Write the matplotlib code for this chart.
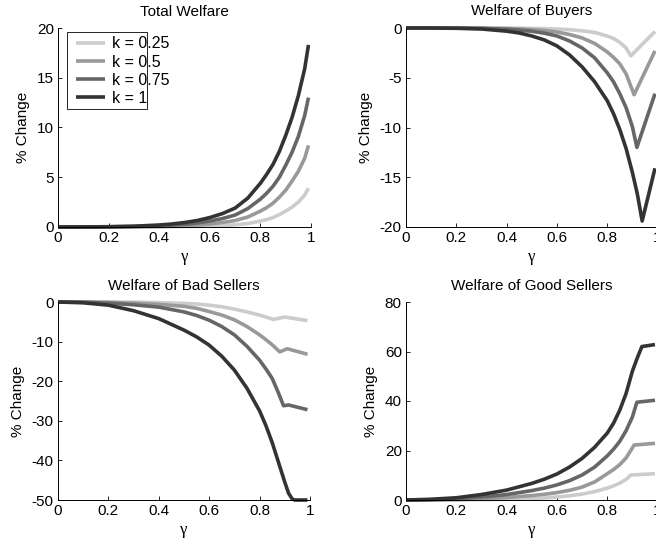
import matplotlib
matplotlib.use("Agg")
import matplotlib.pyplot as plt
from matplotlib.patches import Rectangle

plt.rcParams['font.family'] = ['Liberation Sans', 'DejaVu Sans']

# ---------------- data ----------------
k_labels = ["k = 0.25", "k = 0.5", "k = 0.75", "k = 1"]
colors = ["#cccccc", "#999999", "#666666", "#333333"]

# Total welfare
tw_x = [0, 0.1, 0.2, 0.3, 0.4, 0.45, 0.5, 0.55, 0.6, 0.65, 0.7, 0.75, 0.8, 0.825, 0.85, 0.875, 0.9, 0.925, 0.95, 0.975, 0.99]
tw_k025 = [0, 0, 0, 0.01, 0.02, 0.03, 0.05, 0.07, 0.1, 0.15, 0.22, 0.35, 0.6, 0.75, 0.95, 1.25, 1.6, 2.0, 2.5, 3.2, 3.9]
tw_k050 = [0, 0, 0.01, 0.02, 0.05, 0.08, 0.13, 0.2, 0.3, 0.45, 0.65, 1.0, 1.6, 1.95, 2.4, 3.0, 3.7, 4.6, 5.6, 6.9, 8.2]
tw_k075 = [0, 0, 0.02, 0.05, 0.12, 0.19, 0.28, 0.4, 0.6, 0.85, 1.2, 1.85, 2.8, 3.4, 4.1, 5.0, 6.2, 7.5, 9.1, 11.2, 13.0]
tw_k100 = [0, 0.01, 0.03, 0.08, 0.2, 0.3, 0.45, 0.65, 0.95, 1.35, 1.9, 2.9, 4.4, 5.3, 6.3, 7.6, 9.2, 11.0, 13.2, 15.9, 18.3]

# Welfare of buyers
by_x025 = [0, 0.1, 0.2, 0.3, 0.4, 0.45, 0.5, 0.55, 0.6, 0.65, 0.7, 0.75, 0.8, 0.825, 0.85, 0.875, 0.894, 0.99]
by_k025 = [0, 0, 0, 0, -0.01, -0.02, -0.04, -0.06, -0.1, -0.17, -0.28, -0.45, -0.8, -1.05, -1.45, -2.0, -2.8, -0.35]
by_x050 = [0, 0.1, 0.2, 0.3, 0.4, 0.45, 0.5, 0.55, 0.6, 0.65, 0.7, 0.75, 0.8, 0.825, 0.85, 0.875, 0.907, 0.99]
by_k050 = [0, 0, 0, -0.02, -0.06, -0.1, -0.16, -0.25, -0.4, -0.65, -1.0, -1.55, -2.4, -2.95, -3.6, -4.6, -6.7, -2.3]
by_x075 = [0, 0.1, 0.2, 0.3, 0.4, 0.45, 0.5, 0.55, 0.6, 0.65, 0.7, 0.75, 0.8, 0.825, 0.85, 0.875, 0.9, 0.918, 0.99]
by_k075 = [0, 0, -0.01, -0.04, -0.13, -0.21, -0.33, -0.52, -0.8, -1.3, -2.0, -3.0, -4.5, -5.4, -6.6, -8.0, -9.9, -12.0, -6.6]
by_x100 = [0, 0.1, 0.2, 0.3, 0.4, 0.45, 0.5, 0.55, 0.6, 0.65, 0.7, 0.75, 0.8, 0.825, 0.85, 0.875, 0.9, 0.92, 0.939, 0.99]
by_k100 = [0, 0, -0.03, -0.1, -0.32, -0.5, -0.8, -1.2, -1.8, -2.7, -3.9, -5.4, -7.3, -8.6, -10.2, -12.1, -14.5, -16.7, -19.4, -14.1]

# Welfare of bad sellers
bs_x025 = [0, 0.1, 0.2, 0.3, 0.4, 0.5, 0.55, 0.6, 0.65, 0.7, 0.75, 0.8, 0.855, 0.9, 0.99]
bs_k025 = [0, 0, 0, -0.05, -0.15, -0.35, -0.5, -0.8, -1.2, -1.8, -2.5, -3.3, -4.4, -3.8, -4.7]
bs_x050 = [0, 0.1, 0.2, 0.3, 0.4, 0.5, 0.55, 0.6, 0.65, 0.7, 0.75, 0.8, 0.825, 0.85, 0.88, 0.91, 0.99]
bs_k050 = [0, 0, -0.1, -0.3, -0.6, -1.1, -1.6, -2.4, -3.3, -4.5, -6.2, -8.3, -9.5, -10.8, -12.6, -11.8, -13.2]
bs_x075 = [0, 0.1, 0.2, 0.3, 0.4, 0.5, 0.55, 0.6, 0.65, 0.7, 0.75, 0.8, 0.825, 0.85, 0.875, 0.895, 0.915, 0.99]
bs_k075 = [0, -0.05, -0.3, -0.7, -1.3, -2.5, -3.4, -4.6, -6.2, -8.3, -11.2, -14.7, -16.9, -19.3, -23.0, -26.2, -26.0, -27.2]
bs_x100 = [0, 0.1, 0.2, 0.3, 0.4, 0.5, 0.55, 0.6, 0.65, 0.7, 0.75, 0.8, 0.825, 0.85, 0.875, 0.9, 0.915, 0.93, 0.94, 0.99]
bs_k100 = [0, -0.2, -0.8, -2.2, -4.2, -7.1, -8.8, -10.9, -13.7, -17.2, -21.8, -27.5, -31.2, -35.5, -40.5, -45.5, -48.3, -49.8, -50, -50]

# Welfare of good sellers
gs_x025 = [0, 0.1, 0.2, 0.3, 0.4, 0.5, 0.55, 0.6, 0.65, 0.7, 0.75, 0.8, 0.825, 0.85, 0.875, 0.894, 0.99]
gs_k025 = [0, 0, 0.05, 0.15, 0.3, 0.6, 0.8, 1.2, 1.7, 2.4, 3.4, 4.8, 5.7, 6.8, 8.3, 10.1, 10.6]
gs_x050 = [0, 0.1, 0.2, 0.3, 0.4, 0.5, 0.55, 0.6, 0.65, 0.7, 0.75, 0.8, 0.825, 0.85, 0.875, 0.895, 0.907, 0.99]
gs_k050 = [0, 0, 0.2, 0.5, 1.0, 1.8, 2.3, 3.0, 3.9, 5.2, 7.3, 10.6, 12.3, 14.3, 17.0, 20.2, 22.2, 22.9]
gs_x075 = [0, 0.1, 0.2, 0.3, 0.4, 0.5, 0.55, 0.6, 0.65, 0.7, 0.75, 0.8, 0.825, 0.85, 0.875, 0.9, 0.918, 0.99]
gs_k075 = [0, 0.1, 0.5, 1.2, 2.2, 3.8, 4.8, 6.1, 7.8, 10.1, 13.3, 17.8, 20.5, 23.7, 28.0, 33.5, 39.5, 40.3]
gs_x100 = [0, 0.1, 0.2, 0.3, 0.4, 0.5, 0.55, 0.6, 0.65, 0.7, 0.75, 0.8, 0.825, 0.85, 0.875, 0.9, 0.92, 0.938, 0.99]
gs_k100 = [0, 0.3, 0.9, 2.2, 4.0, 6.7, 8.4, 10.5, 13.3, 16.8, 21.3, 27.0, 31.0, 36.3, 43.0, 52.0, 57.5, 62.0, 62.8]

panels = [
    dict(title="Total Welfare", ylim=(0, 20), yticks=[0, 5, 10, 15, 20],
         series=[(tw_x, tw_k025), (tw_x, tw_k050), (tw_x, tw_k075), (tw_x, tw_k100)],
         rect=[58, 28, 253, 199], legend=True),
    dict(title="Welfare of Buyers", ylim=(-20, 0), yticks=[-20, -15, -10, -5, 0],
         series=[(by_x025, by_k025), (by_x050, by_k050), (by_x075, by_k075), (by_x100, by_k100)],
         rect=[406, 28, 251.5, 199], legend=False),
    dict(title="Welfare of Bad Sellers", ylim=(-50, 0), yticks=[-50, -40, -30, -20, -10, 0],
         series=[(bs_x025, bs_k025), (bs_x050, bs_k050), (bs_x075, bs_k075), (bs_x100, bs_k100)],
         rect=[58, 302, 252, 198], legend=False),
    dict(title="Welfare of Good Sellers", ylim=(0, 80), yticks=[0, 20, 40, 60, 80],
         series=[(gs_x025, gs_k025), (gs_x050, gs_k050), (gs_x075, gs_k075), (gs_x100, gs_k100)],
         rect=[406, 302, 251.5, 198], legend=False),
]

W, H = 656, 550
fig = plt.figure(figsize=(W / 100, H / 100), dpi=100)
FS = 11

for p in panels:
    x0, y0, w, h = p["rect"]
    ax = fig.add_axes([x0 / W, 1 - (y0 + h) / H, w / W, h / H])
    for (xs, ys), c, lab in zip(p["series"], colors, k_labels):
        ax.plot(xs, ys, color=c, lw=2.6, label=lab, clip_on=False,
                solid_joinstyle='round', solid_capstyle='butt')
    ax.set_xlim(0, 1)
    ax.set_ylim(*p["ylim"])
    ax.set_xticks([0, 0.2, 0.4, 0.6, 0.8, 1])
    ax.set_xticklabels(["0", "0.2", "0.4", "0.6", "0.8", "1"])
    ax.set_yticks(p["yticks"])
    ax.set_yticklabels([str(v) for v in p["yticks"]])
    ax.tick_params(direction='in', length=3, width=0.6, labelsize=FS, pad=3)
    ax.spines['top'].set_visible(False)
    ax.spines['right'].set_visible(False)
    for s in ('left', 'bottom'):
        ax.spines[s].set_linewidth(0.7)
    ax.set_title(p["title"], fontsize=FS, pad=9)
    ax.set_ylabel("% Change", fontsize=FS, labelpad=5)
    ax.set_xlabel("γ", fontsize=FS + 1, family=['Liberation Serif', 'DejaVu Serif'], labelpad=3)
    if p["legend"]:
        ax.legend(loc='upper left', bbox_to_anchor=(0.045, 0.99), borderaxespad=0,
                  fontsize=11.5, frameon=False, handlelength=1.82,
                  handletextpad=0.44, labelspacing=0.2, borderpad=0.4)
        # legend box as drawn in the original (narrower than its labels)
        fig.patches.append(Rectangle((67 / W, 1 - 109 / H), 80 / W, 77 / H,
                                     transform=fig.transFigure, fill=False,
                                     edgecolor='black', linewidth=0.6, zorder=5))

fig.savefig("out.png", dpi=100)
